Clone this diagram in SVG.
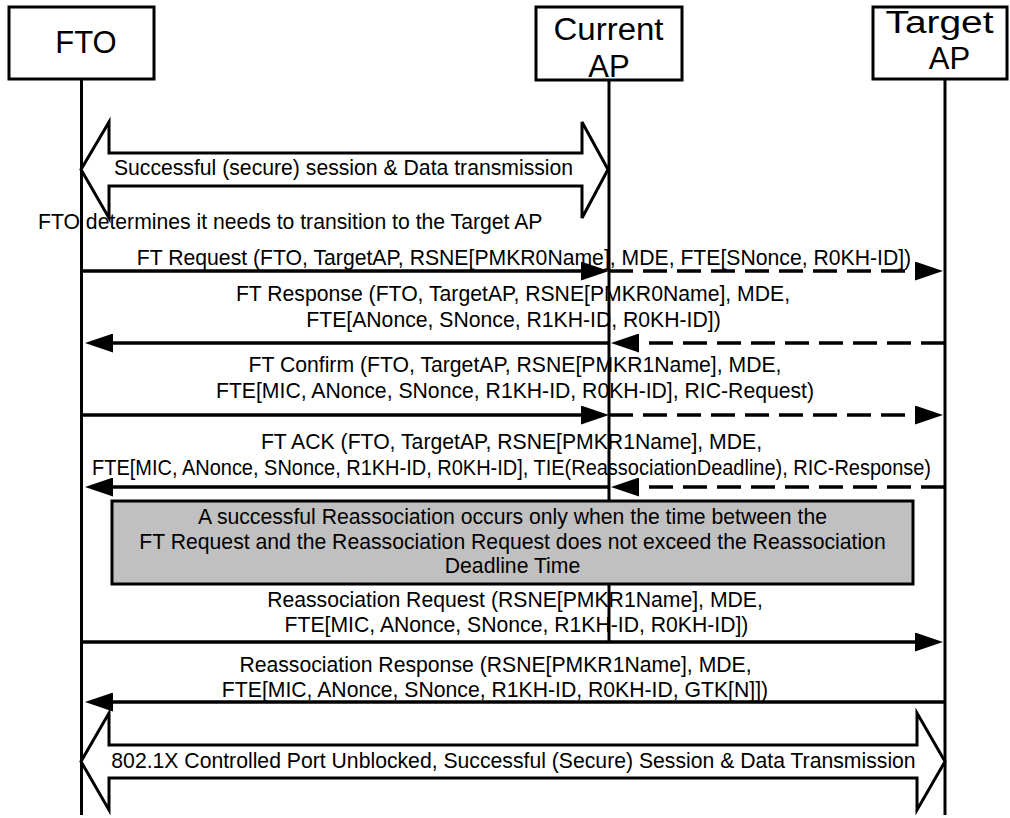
<svg xmlns="http://www.w3.org/2000/svg" width="1010" height="818" viewBox="0 0 1010 818">
<style>
.box{fill:#fff;stroke:#000;stroke-width:3}
.life{stroke:#000;stroke-width:3;fill:none}
.msg{stroke:#000;stroke-width:3.3;fill:none}
.dash{stroke-dasharray:24 10}
.blk{fill:#fff;stroke:#000;stroke-width:3;stroke-linejoin:miter}
.note{fill:#c0c0c0;stroke:#000;stroke-width:3}
text{font-family:"Liberation Sans",Arial,sans-serif;fill:#000}
.lbl{font-size:21.2px;text-anchor:middle}
.hdr{font-size:31px;text-anchor:middle}
</style>
<defs>
<marker id="ah" markerUnits="userSpaceOnUse" viewBox="0 0 28 19" refX="1" refY="9.5" markerWidth="28" markerHeight="19" orient="auto">
<path d="M0,0 L28,9.5 L0,19 Z" fill="#000"/>
</marker>
</defs>
<g id="lifelines">
<line class="life" x1="81.5" y1="79" x2="81.5" y2="815"/>
<line class="life" x1="609" y1="80" x2="609" y2="642"/>
<line class="life" x1="945" y1="79" x2="945" y2="815"/>
</g>
<g id="node-fto">
<rect class="box" x="9" y="7" width="145" height="72"/>
<text class="hdr" x="86" y="53">FTO</text>
</g>
<g id="node-current-ap">
<rect class="box" x="536" y="7" width="146" height="73"/>
<text class="hdr" x="608.5" y="40" textLength="110" lengthAdjust="spacingAndGlyphs">Current</text>
<text class="hdr" x="609" y="77">AP</text>
</g>
<g id="node-target-ap">
<rect class="box" x="873" y="7" width="134" height="72"/>
<text class="hdr" x="939.5" y="33" textLength="108" lengthAdjust="spacingAndGlyphs">Target</text>
<text class="hdr" x="949.5" y="69">AP</text>
</g>
<g id="session-1">
<path class="blk" d="M81,169.5 L109,122 L109,153 L582,153 L582,122 L608,169.5 L582,218 L582,186 L109,186 L109,218 Z"/>
<text class="lbl" x="343.5" y="175">Successful (secure) session &amp; Data transmission</text>
</g>
<g id="note-deadline">
<rect class="note" x="112" y="501" width="801" height="83"/>
<text class="lbl" x="512.5" y="524">A successful Reassociation occurs only when the time between the</text>
<text class="lbl" x="512.5" y="548.5">FT Request and the Reassociation Request does not exceed the Reassociation</text>
<text class="lbl" x="512.5" y="573">Deadline Time</text>
</g>
<g id="session-2">
<path class="blk" d="M81,761.5 L109,713 L109,745 L917,745 L917,713 L945,761.5 L917,810 L917,778 L109,778 L109,810 Z"/>
<text class="lbl" x="513.5" y="768">802.1X Controlled Port Unblocked, Successful (Secure) Session &amp; Data Transmission</text>
</g>
<g id="connectors">
<path class="msg" d="M81,271 H582" marker-end="url(#ah)"/>
<path class="msg dash" d="M609,271 H916" marker-end="url(#ah)"/>
<path class="msg dash" d="M945,343 H638" marker-end="url(#ah)"/>
<path class="msg" d="M609,343 H112" marker-end="url(#ah)"/>
<path class="msg" d="M81,415 H582" marker-end="url(#ah)"/>
<path class="msg dash" d="M609,415 H916" marker-end="url(#ah)"/>
<path class="msg dash" d="M945,487 H638" marker-end="url(#ah)"/>
<path class="msg" d="M609,487 H112" marker-end="url(#ah)"/>
<path class="msg" d="M81,642 H916" marker-end="url(#ah)"/>
<path class="msg" d="M945,702 H112" marker-end="url(#ah)"/>
</g>
<g id="labels">
<text style="font-size:21.2px" x="38" y="229">FTO determines it needs to transition to the Target AP</text>
<text class="lbl" x="524" y="265">FT Request (FTO, TargetAP, RSNE[PMKR0Name], MDE, FTE[SNonce, R0KH-ID])</text>
<text class="lbl" x="513" y="301">FT Response (FTO, TargetAP, RSNE[PMKR0Name], MDE,</text>
<text class="lbl" x="513.5" y="327">FTE[ANonce, SNonce, R1KH-ID, R0KH-ID])</text>
<text class="lbl" x="515" y="372">FT Confirm (FTO, TargetAP, RSNE[PMKR1Name], MDE,</text>
<text class="lbl" x="515" y="398">FTE[MIC, ANonce, SNonce, R1KH-ID, R0KH-ID], RIC-Request)</text>
<text class="lbl" x="511.5" y="449">FT ACK (FTO, TargetAP, RSNE[PMKR1Name], MDE,</text>
<text class="lbl" x="511.5" y="475" textLength="839" lengthAdjust="spacingAndGlyphs">FTE[MIC, ANonce, SNonce, R1KH-ID, R0KH-ID], TIE(ReassociationDeadline), RIC-Response)</text>
<text class="lbl" x="515" y="607">Reassociation Request (RSNE[PMKR1Name], MDE,</text>
<text class="lbl" x="516.5" y="632">FTE[MIC, ANonce, SNonce, R1KH-ID, R0KH-ID])</text>
<text class="lbl" x="495.5" y="672">Reassociation Response (RSNE[PMKR1Name], MDE,</text>
<text class="lbl" x="495" y="697">FTE[MIC, ANonce, SNonce, R1KH-ID, R0KH-ID, GTK[N]])</text>
</g>
</svg>
